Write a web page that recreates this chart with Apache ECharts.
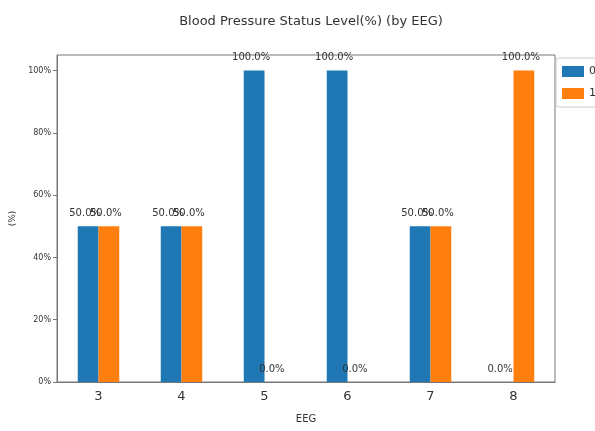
<!DOCTYPE html>
<html>
<head>
<meta charset="utf-8">
<script src="https://cdn.jsdelivr.net/npm/echarts@6/dist/echarts.min.js"></script>
<style>
  html, body { margin: 0; padding: 0; background: #fff; }
  #chart { width: 595px; height: 431px; }
</style>
</head>
<body>
<div id="chart"></div>
<script>
// categories (EEG level)
const categories = ['3', '4', '5', '6', '7', '8'];
// status 0 / 1, percent
const status0 = [50, 50, 100, 100, 50, 0];
const status1 = [50, 50, 0, 0, 50, 100];
const seriesNames = ['0', '1'];
const yTicks = [0, 20, 40, 60, 80, 100];

const chart = echarts.init(document.getElementById('chart'));

const labelCfg = {
  show: true,
  position: 'top',
  distance: 8,
  offset: [-3, 0],
  color: '#333',
  fontSize: 10,
  fontFamily: 'DejaVu Sans',
  formatter: p => p.value.toFixed(1) + '%'
};

chart.setOption({
  animation: false,
  textStyle: { fontFamily: 'DejaVu Sans' },
  title: {
    text: 'Blood Pressure Status Level(%) (by EEG)',
    left: 306,
    textAlign: 'center',
    top: 10,
    textStyle: { fontSize: 13, fontWeight: 'normal', color: '#333' }
  },
  legend: {
    left: 556,
    top: 58,
    orient: 'vertical',
    icon: 'rect',
    itemWidth: 22,
    itemHeight: 11,
    itemGap: 11,
    padding: [8, 6, 8, 6],
    borderColor: '#ccc',
    borderWidth: 1,
    borderRadius: 3,
    textStyle: { fontSize: 11, color: '#333' },
    data: seriesNames
  },
  grid: {
    left: 57, right: 40, top: 55, bottom: 49,
    show: true, borderColor: '#777', borderWidth: 1
  },
  xAxis: {
    type: 'category',
    data: categories,
    name: 'EEG',
    nameLocation: 'middle',
    nameGap: 32,
    nameTextStyle: { fontSize: 10, color: '#333' },
    axisLine: { lineStyle: { color: '#777' } },
    axisTick: { alignWithLabel: true, length: 4, lineStyle: { color: '#777' } },
    axisLabel: { fontSize: 13, color: '#333', margin: 8 }
  },
  yAxis: {
    type: 'value',
    min: 0,
    max: 105,
    interval: 20,
    name: '(%)',
    nameLocation: 'middle',
    nameGap: 27,
    nameRotate: 90,
    nameTextStyle: { fontSize: 9, color: '#333' },
    axisLine: { show: true, lineStyle: { color: '#777' } },
    axisTick: { show: true, length: 4, lineStyle: { color: '#777' } },
    axisLabel: {
      fontSize: 8, color: '#333', margin: 6, showMaxLabel: false,
      formatter: v => (yTicks.indexOf(v) >= 0 ? v + '%' : '')
    },
    splitLine: { show: false }
  },
  series: [
    {
      name: seriesNames[0],
      type: 'bar',
      data: status0,
      barWidth: '25%',
      barGap: '0%',
      itemStyle: { color: '#1f77b4' },
      label: labelCfg
    },
    {
      name: seriesNames[1],
      type: 'bar',
      data: status1,
      barWidth: '25%',
      barGap: '0%',
      itemStyle: { color: '#ff7f0e' },
      label: labelCfg
    }
  ]
});
</script>
</body>
</html>
